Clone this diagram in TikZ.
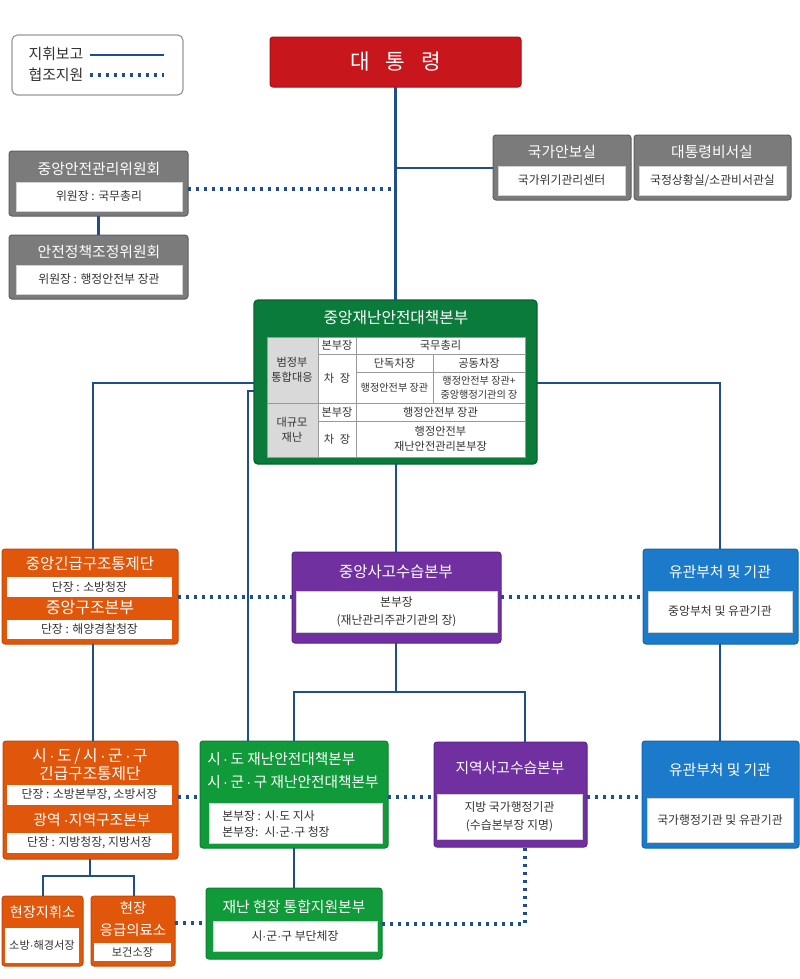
\documentclass[tikz,border=0pt]{standalone}
\usepackage{fontspec}
\setmainfont{Noto Sans CJK KR}
\newfontfamily\dotfont{Liberation Sans}
\newcommand\md{{\dotfont ·}}
\usetikzlibrary{fit}
\definecolor{cmdblue}{HTML}{1F4E8D}
\definecolor{pred}{HTML}{C8161D}
\definecolor{predd}{HTML}{A51015}
\definecolor{gry}{HTML}{7B7B7B}
\definecolor{gryd}{HTML}{5E5E5E}
\definecolor{cgreen}{HTML}{0A7B3A}
\definecolor{cgreend}{HTML}{066330}
\definecolor{bgreen}{HTML}{109A3A}
\definecolor{bgreend}{HTML}{0B7F2F}
\definecolor{purp}{HTML}{7030A0}
\definecolor{purpd}{HTML}{5B2388}
\definecolor{blu}{HTML}{1C7ACB}
\definecolor{blud}{HTML}{1466AE}
\definecolor{orng}{HTML}{E0570C}
\definecolor{orngd}{HTML}{C44806}
\definecolor{txt}{HTML}{333333}
\definecolor{cellg}{HTML}{D9D9D9}
\begin{document}
\begin{tikzpicture}[x=0.75pt,y=-0.75pt,
  bx/.style={inner sep=0pt,outer sep=0pt,rounded corners=2.2pt,line width=0.75pt},
  graybox/.style={bx,fill=gry,draw=gryd},
  redbox/.style={bx,fill=pred,draw=predd},
  cgbox/.style={bx,fill=cgreen,draw=cgreend},
  bgbox/.style={bx,fill=bgreen,draw=bgreend},
  pbox/.style={bx,fill=purp,draw=purpd},
  bbox/.style={bx,fill=blu,draw=blud},
  obox/.style={bx,fill=orng,draw=orngd},
  wb/.style={inner sep=0pt,outer sep=0pt,fill=white,draw=black!18,line width=0.6pt},
  ttl/.style={text=white,inner sep=0pt,align=center,font=\fontsize{11.1}{13}\selectfont},
  it/.style={text=txt,inner sep=0pt,align=center,font=\fontsize{8.9}{13.5}\selectfont},
  tt/.style={text=txt,inner sep=0pt,align=center,font=\fontsize{8.4}{10.5}\selectfont},
  ts/.style={text=txt,inner sep=0pt,align=center,font=\fontsize{7.6}{10.5}\selectfont},
  tline/.style={draw=black!40,line width=0.75pt},
  cmd/.style={draw=cmdblue,line width=2.2pt},
  coop/.style={draw=cmdblue,line width=2.5pt,dash pattern=on 2.5pt off 3.5pt},
]
\useasboundingbox (0,0) rectangle (800,979);

% legend
\node[bx,draw=black!40,rounded corners=4pt,fill=white,line width=0.9pt,fit={(12,35) (183,95)}] (leg) {};
\node[text=txt,inner sep=0pt,font=\fontsize{11.2}{13}\selectfont] (l1) at (56,54) {지휘보고};
\node[text=txt,inner sep=0pt,font=\fontsize{11.2}{13}\selectfont] (l2) at (56,75) {협조지원};
\coordinate (ls1) at (90,55); \coordinate (le1) at (164,55);
\coordinate (ls2) at (90,75); \coordinate (le2) at (164,75);
\draw[cmd] (ls1) -- (le1);
\draw[coop] (ls2) -- (le2);

% president
\node[redbox,fit={(270,37) (521,87)}] (pres) {};
\node[ttl,font=\fontsize{16}{18}\selectfont] (prest) at (pres) {{\spaceskip=0.75em 대 통 령}};

% committees
\node[graybox,fit={(9,151) (188,216)}] (cjc) {};
\node[ttl] (cjct) at (99,169) {중앙안전관리위원회};
\node[wb,fit={(16,182) (182,211)}] (cjci) {};
\node[it] (cjcit) at (cjci) {위원장 : 국무총리};
\node[graybox,fit={(9,235) (188,299)}] (cpc) {};
\node[ttl] (cpct) at (99,252) {안전정책조정위원회};
\node[wb,fit={(16,265) (182,294)}] (cpci) {};
\node[it] (cpcit) at (cpci) {위원장 : 행정안전부 장관};

% NSA and secretariat
\node[graybox,fit={(493,135) (631,200)}] (nsa) {};
\node[ttl] (nsat) at (562,152) {국가안보실};
\node[wb,fit={(498,166) (625,195)}] (nsai) {};
\node[it] (nsait) at (nsai) {국가위기관리센터};
\node[graybox,fit={(634,135) (791,200)}] (sec) {};
\node[ttl] (sect) at (712,152) {대통령비서실};
\node[wb,fit={(639,166) (786,195)}] (seci) {};
\node[it] (secit) at (seci) {국정상황실/소관비서관실};

% central HQ
\node[cgbox,line width=1pt,rounded corners=3pt,fit={(254,300) (537,464)}] (cen) {};
\node[ttl,font=\fontsize{11.8}{13}\selectfont] (cent) at (396,318) {중앙재난안전대책본부};
\node[inner sep=0pt,outer sep=0pt,fill=white,fit={(267,337) (525,457)}] (tbl) {};
\fill[cellg] (267,337) rectangle (318,457);
\draw[tline] (267,337) rectangle (525,457);
\draw[tline] (318,337) -- (318,457);
\draw[tline] (356,337) -- (356,457);
\draw[tline] (433,354) -- (433,403);
\draw[tline] (318,354) -- (525,354);
\draw[tline] (356,372) -- (525,372);
\draw[tline] (267,403) -- (525,403);
\draw[tline] (318,421) -- (525,421);
\node[tt,font=\fontsize{8.4}{11.5}\selectfont] (c11) at (292,370) {범정부\\통합대응};
\node[tt,font=\fontsize{8.4}{11.5}\selectfont] (c12) at (292,430) {대규모\\재난};
\node[tt] (c21) at (337,345.5) {본부장};
\node[tt] (c22) at (337,378) {{\spaceskip=0.5em 차 장}};
\node[tt] (c23) at (337,412) {본부장};
\node[tt] (c24) at (337,439) {{\spaceskip=0.5em 차 장}};
\node[tt] (c31) at (440.5,345.5) {국무총리};
\node[tt] (c32) at (394.5,363) {단독차장};
\node[tt] (c33) at (479,363) {공동차장};
\node[ts] (c34) at (394.5,387.5) {행정안전부 장관};
\node[ts] (c35) at (479,387.5) {행정안전부 장관+\\중앙행정기관의 장};
\node[tt] (c36) at (440.5,412) {행정안전부 장관};
\node[tt,font=\fontsize{8.4}{11.5}\selectfont] (c37) at (440.5,439) {행정안전부\\재난안전관리본부장};

% central emergency rescue (orange)
\node[obox,fit={(2,549) (178,644)}] (oc1) {};
\node[ttl,font=\fontsize{11.6}{13}\selectfont] (oc1t) at (90,564) {중앙긴급구조통제단};
\node[wb,draw=none,fit={(7,577) (172,597)}] (oc1a) {};
\node[it] (oc1at) at (oc1a) {단장 : 소방청장};
\node[ttl,font=\fontsize{12}{13}\selectfont] (oc1t2) at (90,608) {중앙구조본부};
\node[wb,draw=none,fit={(7,620) (172,639)}] (oc1b) {};
\node[it] (oc1bt) at (oc1b) {단장 : 해양경찰청장};

% central accident HQ (purple)
\node[pbox,fit={(292,552) (501,643)}] (cs) {};
\node[ttl,font=\fontsize{11.6}{13}\selectfont] (cst) at (396,572) {중앙사고수습본부};
\node[wb,fit={(296,591) (497,632)}] (csi) {};
\node[it] (csit) at (csi) {본부장\\(재난관리주관기관의 장)};

% related agencies 1 (blue)
\node[bbox,fit={(643,549) (798,644)}] (bl1) {};
\node[ttl] (bl1t) at (720,572) {유관부처 및 기관};
\node[wb,fit={(648,591) (792,632)}] (bl1i) {};
\node[it] (bl1it) at (bl1i) {중앙부처 및 유관기관};

% regional rescue (orange)
\node[obox,fit={(3,741) (178,859)}] (oc2) {};
\node[ttl,font=\fontsize{11.8}{13.2}\selectfont] (oc2t) at (90,764.5) {시\,\md\,도\,/\,시\,\md\,군\,\md\,구\\긴급구조통제단};
\node[wb,draw=none,fit={(7,785) (172,805)}] (oc2a) {};
\node[it] (oc2at) at (oc2a) {단장 : 소방본부장, 소방서장};
\node[ttl] (oc2t2) at (92,820) {광역 \md 지역구조본부};
\node[wb,draw=none,fit={(7,833) (172,853)}] (oc2b) {};
\node[it] (oc2bt) at (oc2b) {단장 : 지방청장, 지방서장};

% local disaster HQ (green)
\node[bgbox,fit={(200,741) (388,848)}] (sd) {};
\node[ttl,align=left,anchor=west,font=\fontsize{11}{17.2}\selectfont] (sdt) at (207,770.5) {시\,\md\,도 재난안전대책본부\\시\,\md\,군\,\md\,구 재난안전대책본부};
\node[wb,fit={(209,803) (382,843)}] (sdi) {};
\node[it,align=left,anchor=west,font=\fontsize{8.9}{12}\selectfont] (sdit) at (222,824) {본부장 : 시\md 도 지사\\본부장:~ 시\md 군\md 구 청장};

% regional accident HQ (purple)
\node[pbox,fit={(434,742) (587,847)}] (rs) {};
\node[ttl] (rst) at (510,768) {지역사고수습본부};
\node[wb,fit={(437,794) (582,839)}] (rsi) {};
\node[it] (rsit) at (rsi) {지방 국가행정기관\\(수습본부장 지명)};

% related agencies 2 (blue)
\node[bbox,fit={(642,741) (799,848)}] (bl2) {};
\node[ttl] (bl2t) at (720,770) {유관부처 및 기관};
\node[wb,fit={(647,798) (793,842)}] (bl2i) {};
\node[it] (bl2it) at (bl2i) {국가행정기관 및 유관기관};

% field command post
\node[obox,fit={(2,896) (83,966)}] (fc) {};
\node[ttl,font=\fontsize{10.6}{13}\selectfont] (fct) at (42.5,912) {현장지휘소};
\node[wb,draw=none,fit={(5,928) (79,963)}] (fci) {};
\node[tt] (fcit) at (fci) {소방\md 해경서장};
% field medical
\node[obox,fit={(91,896) (175,966)}] (mc) {};
\node[ttl,font=\fontsize{10.8}{17}\selectfont] (mct) at (133,919) {현장\\응급의료소};
\node[wb,draw=none,fit={(94,943) (171,961)}] (mci) {};
\node[tt] (mcit) at (mci) {보건소장};

% field support HQ (green)
\node[bgbox,fit={(206,888) (382,959)}] (site) {};
\node[ttl] (sitet) at (294,907) {재난 현장 통합지원본부};
\node[wb,fit={(213,921) (377,951)}] (sitei) {};
\node[it] (siteit) at (sitei) {시\md 군\md 구 부단체장};

% ---------- connectors ----------
\draw[cmd] (pres.south) -- (cen.north);
\coordinate (jn) at (396,168);
\draw[cmd] (jn) -- (nsa.west |- jn);
\coordinate (jc) at (396,189);
\draw[coop] (cjc.east |- jc) -- (jc);
\draw[cmd] (cjc.south) -- (cpc.north);

\coordinate (jl1) at (93,383);
\draw[cmd] (cen.west |- jl1) -- (jl1) -- (oc1.north -| jl1);
\coordinate (jl2) at (248,391);
\draw[cmd] (cen.west |- jl2) -- (jl2) -- (sd.north -| jl2);
\coordinate (jr) at (720,383);
\draw[cmd] (cen.east |- jr) -- (jr) -- (bl1.north -| jr);
\coordinate (jv) at (396,464);
\draw[cmd] (jv) -- (cs.north -| jv);

\coordinate (jd1) at (240,597);
\draw[coop] (oc1.east |- jd1) -- (cs.west |- jd1);
\draw[coop] (cs.east |- jd1) -- (bl1.west |- jd1);

\draw[cmd] (oc1.south -| jl1) -- (oc2.north -| jl1);
\draw[cmd] (bl1.south -| jr) -- (bl2.north -| jr);

\coordinate (jm) at (396,692);
\coordinate (jm1) at (294,692);
\coordinate (jm2) at (525,692);
\draw[cmd] (cs.south -| jm) -- (jm);
\draw[cmd] (sd.north -| jm1) -- (jm1) -- (jm2) -- (rs.north -| jm2);

\coordinate (jd2) at (300,797);
\draw[coop] (oc2.east |- jd2) -- (sd.west |- jd2);
\draw[coop] (sd.east |- jd2) -- (rs.west |- jd2);
\draw[coop] (rs.east |- jd2) -- (bl2.west |- jd2);

\draw[cmd] (sd.south -| jm1) -- (site.north -| jm1);

\coordinate (jb) at (90,876);
\coordinate (jb1) at (43,876);
\coordinate (jb2) at (134,876);
\draw[cmd] (oc2.south -| jb) -- (jb);
\draw[cmd] (fc.north -| jb1) -- (jb1) -- (jb2) -- (mc.north -| jb2);

\coordinate (jd3) at (190,923);
\draw[coop] (mc.east |- jd3) -- (site.west |- jd3);
\coordinate (jd4) at (525,924);
\draw[coop] (site.east |- jd4) -- (jd4) -- (rs.south -| jd4);
\end{tikzpicture}
\end{document}
